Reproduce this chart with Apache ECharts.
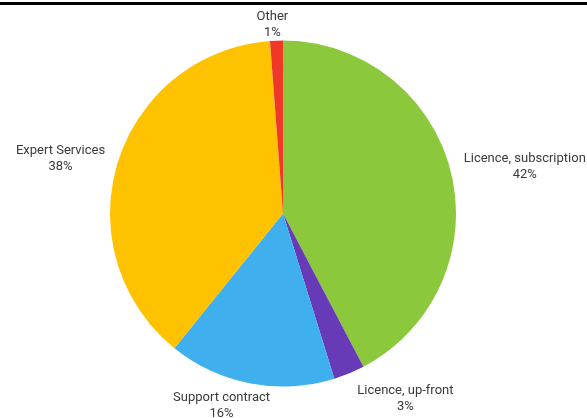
<!DOCTYPE html>
<html>
<head>
<meta charset="utf-8">
<script src="https://cdn.jsdelivr.net/npm/echarts@6/dist/echarts.min.js"></script>
<style>
html,body{margin:0;padding:0;background:#fff;}
#container{width:587px;height:418px;}
</style>
</head>
<body>
<div id="container"></div>
<script>
var categories = ['Licence, subscription', 'Licence, up-front', 'Support contract', 'Expert Services', 'Other'];
var shares = [42.3, 2.9, 15.6, 38.0, 1.2];
var colors = ['#8CC83B', '#673AB7', '#40AFEE', '#FFC200', '#F03828'];

// small nudges so the labels sit where the original ones sit
var labelShift = [[0, -3], [0, 18], [26, 14], [0, -1], [17, -8]];

var dom = document.getElementById("container");
var myChart = echarts.init(dom);

var pieData = [];
for (var i = 0; i < categories.length; i++) {
	pieData.push({
		name: categories[i],
		value: shares[i],
		itemStyle: { color: colors[i] }
	});
}

var option = {
	animation: false,
	graphic: [
		{
			type: 'rect',
			left: 0,
			top: 2,
			shape: { width: 587, height: 3 },
			style: { fill: '#000' }
		}
	],
	series: [
		{
			name: 'Revenue mix',
			type: 'pie',
			center: [283, 213.5],
			radius: 173,
			startAngle: 90,
			clockwise: true,
			avoidLabelOverlap: false,
			data: pieData,
			itemStyle: { borderWidth: 0 },
			label: {
				show: true,
				position: 'outside',
				formatter: function (p) {
					return '{t|' + p.name + '}\n{t|' + Math.round(p.value) + '%}';
				},
				rich: {
					t: {
						align: 'center',
						fontFamily: 'Roboto',
						fontSize: 13,
						lineHeight: 16,
						color: '#3a3a3a'
					}
				}
			},
			labelLine: { show: false, length: 8, length2: 0 },
			labelLayout: function (p) {
				var s = labelShift[p.dataIndex];
				return { dx: s[0], dy: s[1] };
			}
		}
	]
};

myChart.setOption(option);
</script>
</body>
</html>
